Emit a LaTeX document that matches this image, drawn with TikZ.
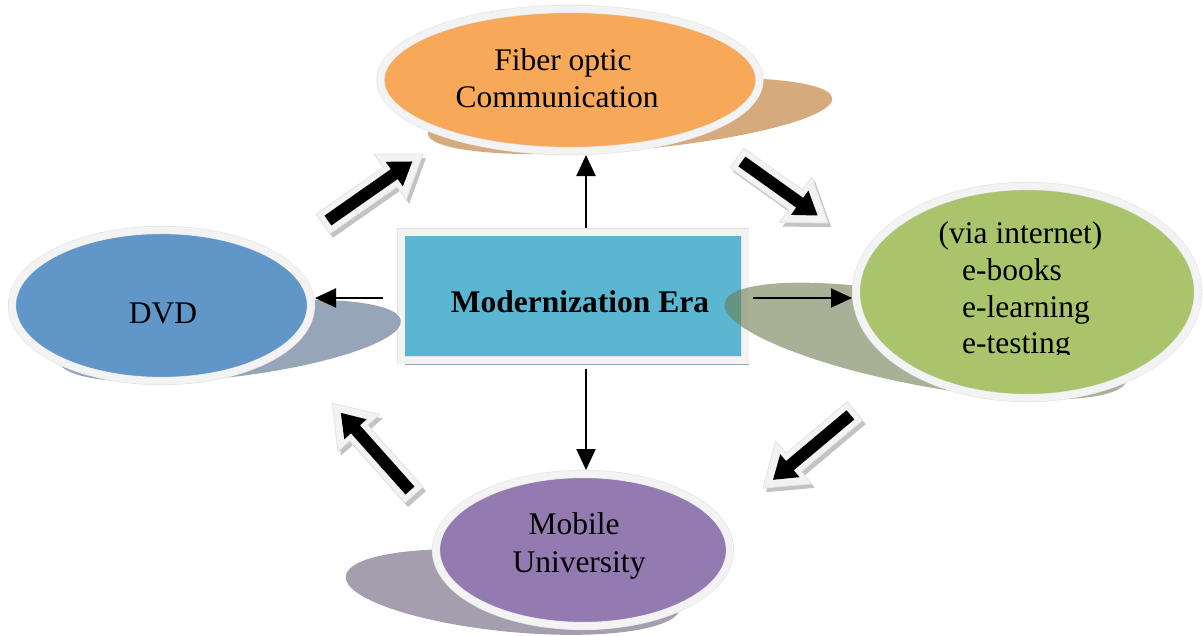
\documentclass[tikz,border=0pt]{standalone}
\usepackage{fontspec}
\setmainfont{Liberation Serif}
\usetikzlibrary{shapes.geometric,arrows.meta,shadows}
\definecolor{orangeF}{RGB}{247,168,88}
\definecolor{orangeS}{RGB}{213,170,125}
\definecolor{blueF}{RGB}{96,150,200}
\definecolor{blueS}{RGB}{151,165,185}
\definecolor{greenF}{RGB}{170,196,108}
\definecolor{greenS}{RGB}{110,125,80}
\definecolor{purpleF}{RGB}{147,122,176}
\definecolor{purpleS}{RGB}{165,158,175}
\definecolor{cyanF}{RGB}{91,183,209}
\definecolor{boxS}{RGB}{140,170,185}
\definecolor{ring}{RGB}{243,243,243}
\definecolor{ringedge}{RGB}{226,226,226}
\definecolor{barS}{RGB}{195,195,195}
\tikzset{
  bubble/.style={ellipse, draw=ringedge, double=ring, double distance=7pt,
    line width=0.6pt, inner sep=0pt, outer sep=4pt},
  centerbox/.style={rectangle, draw=ringedge, double=ring, double distance=7pt,
    line width=0.6pt, inner sep=0pt, outer sep=4pt, fill=cyanF,
    minimum width=344pt, minimum height=128pt,
    drop shadow={shadow xshift=4pt, shadow yshift=-5pt, fill=boxS, opacity=1}},
  txt/.style={font=\fontsize{31.5pt}{37pt}\selectfont, inner sep=0pt, anchor=base},
  conn/.style={line width=2pt, -{Triangle[length=21pt,width=19pt]}},
  barshadow/.style={fill=barS},
  barouter/.style={fill=ring, draw=ringedge, line width=0.8pt},
  barinner/.style={fill=black},
}
\newcommand{\blockarr}[4]{%
  \begin{scope}[shift={(#1+3,#2+4)},rotate=#3]
    \fill[barshadow] (0,-12) -- (#4-40,-12) -- (#4-40,-28) -- (#4,0) -- (#4-40,28) -- (#4-40,12) -- (0,12) -- cycle;
  \end{scope}
  \begin{scope}[shift={(#1,#2)},rotate=#3]
    \filldraw[barouter] (0,-12) -- (#4-40,-12) -- (#4-40,-28) -- (#4,0) -- (#4-40,28) -- (#4-40,12) -- (0,12) -- cycle;
    \fill[barinner] (6,-6) -- (#4-35,-6) -- (#4-35,-15) -- (#4-13,0) -- (#4-35,15) -- (#4-35,6) -- (6,6) -- cycle;
  \end{scope}}
\begin{document}
\begin{tikzpicture}[x=1pt,y=-1pt]
\useasboundingbox (0,0) rectangle (1203,635);

% central box
\node[centerbox] (box) at (573,296) {};
\node[txt, font=\fontsize{31.5pt}{37pt}\selectfont\bfseries] (boxtext) at (580,312) {Modernization Era};

% shadows of the bubbles
\fill[orangeS, rotate around={5:(630,116)}] (630,116) ellipse [x radius=203pt, y radius=34pt];
\fill[blueS, rotate around={6.8:(230,341)}] (230,341) ellipse [x radius=172pt, y radius=36pt];
\fill[greenS, opacity=0.6, rotate around={-10.7:(926,341)}] (926,341) ellipse [x radius=205pt, y radius=45pt];
\fill[purpleS, rotate around={-5.4:(513,592)}] (513,592) ellipse [x radius=168pt, y radius=40pt];

% bubbles
\node[bubble, fill=orangeF, minimum width=379pt, minimum height=142pt] (fo) at (570,80) {};
\node[bubble, fill=blueF, minimum width=299pt, minimum height=151pt] (dvd) at (161.5,305.5) {};
\node[bubble, fill=greenF, minimum width=342pt, minimum height=212pt] (gr) at (1027,292) {};
\node[bubble, fill=purpleF, minimum width=294pt, minimum height=152pt] (pu) at (583,550) {};

% texts
\node[txt] (fo1) at (563,70) {Fiber optic};
\node[txt] (fo2) at (557,107) {Communication};
\node[txt] (dvdt) at (163,323) {DVD};
\node[txt] (gr1) at (1020.5,243) {(via internet)};
\node[txt, anchor=base west] (gr2) at (962,280) {e-books};
\node[txt, anchor=base west] (gr3) at (962,317) {e-learning};
\begin{scope}
  \clip (940,320) rectangle (1120,354);
  \node[txt, anchor=base west] (gr4) at (962,353) {e-testing};
\end{scope}
\node[txt] (pu1) at (574,534) {Mobile};
\node[txt] (pu2) at (579,572) {University};

% connectors
\draw[conn] ([xshift=13pt]box.north) -- ([xshift=13pt]box.north |- fo.south);
\draw[conn] ([xshift=13pt,yshift=-5pt]box.south) -- ([xshift=13pt]box.south |- pu.north);
\draw[conn] ([xshift=-14pt,yshift=-2pt]box.west) -- ([yshift=-2pt]box.west -| dvd.east);
\draw[conn] ([xshift=4pt,yshift=-2pt]box.east) -- ([yshift=-2pt]box.east -| gr.west);

% block arrows
\blockarr{323}{224}{35}{122}
\blockarr{737}{158}{-35.5}{112}
\blockarr{855}{411}{-140}{120}
\blockarr{414}{495}{131.7}{123}
\end{tikzpicture}
\end{document}
